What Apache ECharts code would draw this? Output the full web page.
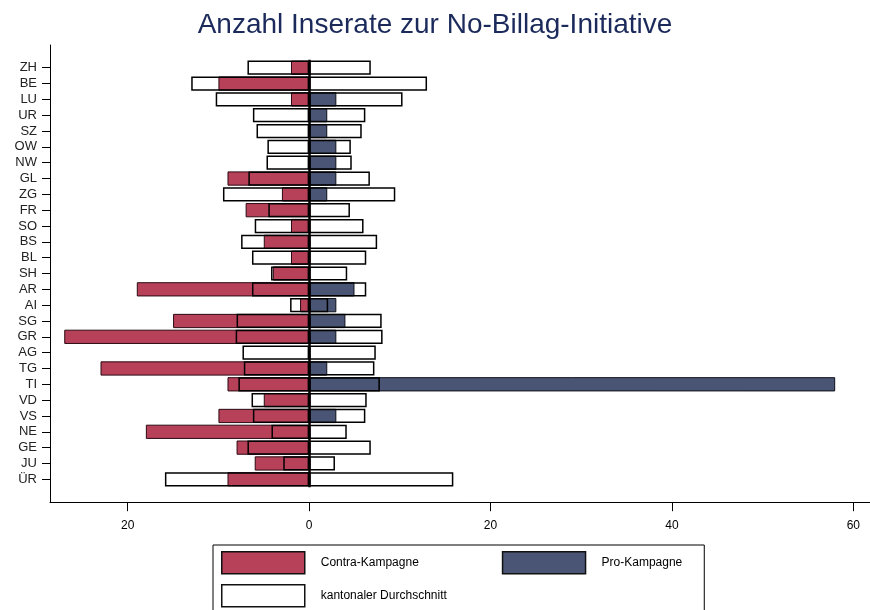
<!DOCTYPE html>
<html>
<head>
<meta charset="utf-8">
<script src="https://cdn.jsdelivr.net/npm/echarts@6/dist/echarts.min.js"></script>
<style>
  html, body { margin: 0; padding: 0; background: #fff; }
  #chart { width: 870px; height: 610px; }
</style>
</head>
<body>
<div id="chart"></div>
<script>
// Kantone, von oben nach unten
var cantons = ['ZH','BE','LU','UR','SZ','OW','NW','GL','ZG','FR','SO','BS','BL','SH','AR','AI','SG','GR','AG','TG','TI','VD','VS','NE','GE','JU','ÜR'];
// Inserate Contra (nach links) / Pro (nach rechts)
var contra = [2,10,2,0,0,0,0,9,3,7,2,5,2,4,19,1,15,27,0,23,9,5,10,18,8,6,9];
var pro = [0,0,3,2,2,3,3,3,2,0,0,0,0,0,5,3,4,3,0,2,58,0,3,0,0,0,0];
// kantonaler Durchschnitt (beidseitig)
var avg = [6.8,13.0,10.3,6.2,5.8,4.6,4.7,6.7,9.5,4.5,6.0,7.5,6.3,4.2,6.3,2.1,8.0,8.1,7.35,7.2,7.8,6.35,6.2,4.15,6.8,2.85,15.9];
var xTicks = [-20, 0, 20, 40, 60];

var font = '"Liberation Sans", Arial, sans-serif';
var chart = echarts.init(document.getElementById('chart'));

// 0 -> kein Balken (sonst bleibt ein Randstrich stehen)
function toBar(arr, sign) {
    return arr.map(function (v) { return v === 0 ? null : sign * v; });
}

var legendText = { fontSize: 12, color: '#000', fontFamily: font, padding: [0, 0, 0, 11] };

var option = {
    animation: false,
    backgroundColor: '#fff',
    title: {
        text: 'Anzahl Inserate zur No-Billag-Initiative',
        left: 'center',
        top: 6,
        textStyle: { fontSize: 28, fontWeight: 'normal', color: '#1b2a5b', fontFamily: font }
    },
    legend: [
        {
            // Rahmen + erste Zeile
            left: 213,
            top: 545,
            padding: [6, 22, 39, 8],
            itemGap: 83,
            itemWidth: 83,
            itemHeight: 22,
            borderColor: '#000',
            borderWidth: 1,
            backgroundColor: '#fff',
            icon: 'rect',
            itemStyle: { borderWidth: 1.5, borderColor: '#111' },
            textStyle: legendText,
            data: ['Contra-Kampagne', 'Pro-Kampagne']
        },
        {
            left: 221,
            top: 584,
            padding: 0,
            itemWidth: 83,
            itemHeight: 22,
            icon: 'rect',
            itemStyle: { borderWidth: 1.5, borderColor: '#111' },
            textStyle: legendText,
            data: [{ name: 'kantonaler Durchschnitt', itemStyle: { color: '#fff' } }]
        }
    ],
    grid: [
        { left: 50, right: 0, top: 59.8, bottom: 122.8 },  // Balken
        { left: 50, right: 0, top: 45, bottom: 108 }        // Rahmen
    ],
    xAxis: [
        {
            gridIndex: 0,
            type: 'value',
            min: -28.57,
            max: 61.84,
            offset: 15,
            splitLine: { show: false },
            axisLine: { show: false, onZero: false },
            axisTick: { show: true, customValues: xTicks, length: 9, lineStyle: { color: '#000' } },
            axisLabel: {
                customValues: xTicks,
                margin: 17,
                fontSize: 12,
                color: '#000',
                fontFamily: font,
                formatter: function (v) { return Math.abs(v); }
            }
        },
        {
            gridIndex: 1,
            type: 'value',
            min: 0,
            max: 1,
            axisLine: { show: true, onZero: false, lineStyle: { color: '#000', width: 1 } },
            axisTick: { show: false },
            axisLabel: { show: false },
            splitLine: { show: false }
        }
    ],
    yAxis: [
        {
            gridIndex: 0,
            type: 'category',
            inverse: true,
            data: cantons,
            axisLine: { show: false, onZero: false },
            axisTick: { show: true, alignWithLabel: true, interval: 0, length: 8, lineStyle: { color: '#000' } },
            axisLabel: { interval: 0, margin: 13, fontSize: 13, color: '#222', fontFamily: font },
            splitLine: { show: false }
        },
        {
            gridIndex: 1,
            type: 'value',
            min: 0,
            max: 1,
            axisLine: { show: true, onZero: false, lineStyle: { color: '#000', width: 1 } },
            axisTick: { show: false },
            axisLabel: { show: false },
            splitLine: { show: false }
        }
    ],
    series: [
        {
            name: 'Contra-Kampagne',
            type: 'bar',
            xAxisIndex: 0,
            yAxisIndex: 0,
            barGap: '-100%',
            barCategoryGap: '10%',
            data: toBar(contra, -1),
            itemStyle: { color: '#b8415a', borderColor: '#2a0a12', borderWidth: 1 }
        },
        {
            name: 'Pro-Kampagne',
            type: 'bar',
            xAxisIndex: 0,
            yAxisIndex: 0,
            barGap: '-100%',
            barCategoryGap: '10%',
            data: toBar(pro, 1),
            itemStyle: { color: '#4a5575', borderColor: '#0d0f18', borderWidth: 1 }
        },
        {
            name: 'kantonaler Durchschnitt',
            type: 'bar',
            xAxisIndex: 0,
            yAxisIndex: 0,
            barGap: '-100%',
            barCategoryGap: '10%',
            data: toBar(avg, -1),
            itemStyle: { color: 'rgba(255,255,255,0)', borderColor: '#000', borderWidth: 1.5 }
        },
        {
            name: 'kantonaler Durchschnitt',
            type: 'bar',
            xAxisIndex: 0,
            yAxisIndex: 0,
            barGap: '-100%',
            barCategoryGap: '10%',
            data: toBar(avg, 1),
            itemStyle: { color: 'rgba(255,255,255,0)', borderColor: '#000', borderWidth: 1.5 },
            markLine: {
                silent: true,
                symbol: 'none',
                label: { show: false },
                lineStyle: { color: '#000', width: 2.5, type: 'solid' },
                data: [{ xAxis: 0 }]
            }
        }
    ]
};

chart.setOption(option);
window.addEventListener('resize', function () {
    chart.resize();
});
</script>
</body>
</html>
